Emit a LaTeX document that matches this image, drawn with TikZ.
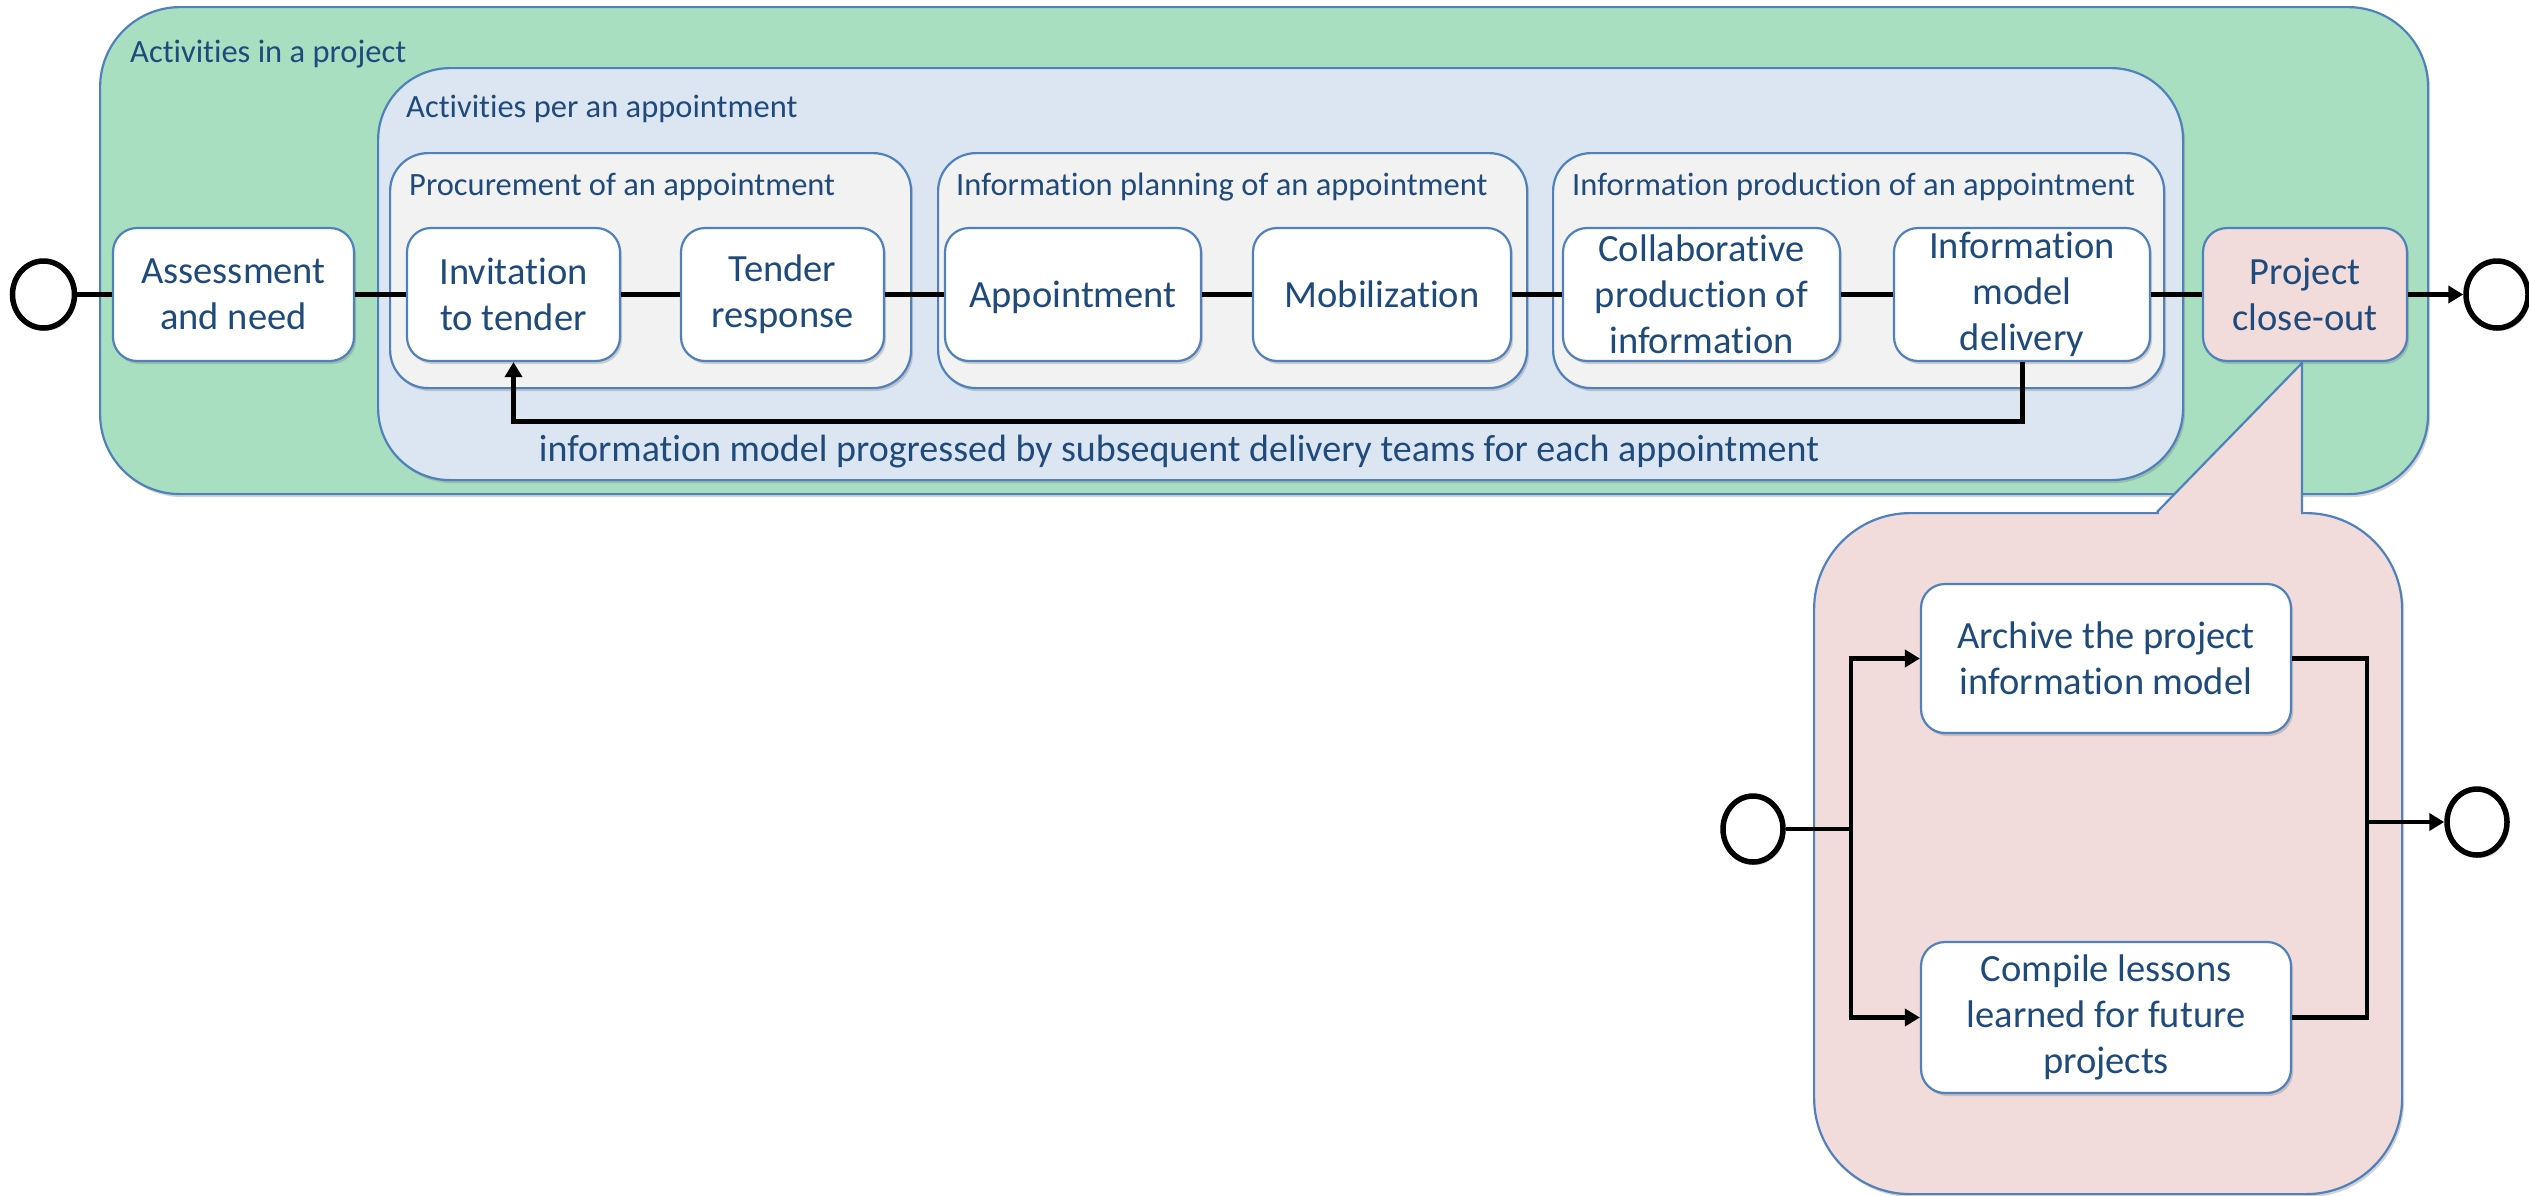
\documentclass[tikz,border=0pt]{standalone}
\usepackage{fontspec}
\setmainfont{Carlito}[Ligatures=NoCommon,Contextuals=NoAlternate]
\usetikzlibrary{arrows.meta,shadows,shapes.geometric}

\definecolor{navy}{HTML}{1F4A7C}
\definecolor{edge}{HTML}{4F81BD}
\definecolor{mint}{HTML}{A8DFC1}
\definecolor{paleblue}{HTML}{DCE6F2}
\definecolor{palegray}{HTML}{F2F2F2}
\definecolor{palepink}{HTML}{F2DCDB}

\begin{document}
\begin{tikzpicture}[x=1pt,y=-1pt,
  shade/.style={drop shadow={shadow xshift=2pt,shadow yshift=-3pt,opacity=0.28,fill=black!60}},
  container/.style={draw=edge,line width=2.2pt,shade,anchor=north west,inner sep=0pt},
  grouplabel/.style={anchor=base west,text=navy,font=\fontsize{32.5}{39}\selectfont,inner sep=0pt},
  task/.style={draw=edge,line width=2.2pt,shade,fill=white,rounded corners=24pt,
    align=center,text=navy,font=\fontsize{38.5}{46}\selectfont,inner sep=0pt},
  oneline/.style={text height=33pt,text depth=8pt},
  endpoint/.style={ellipse,draw=black,fill=white,line width=5.5pt,shade,
    minimum width=62pt,minimum height=67pt,inner sep=0pt},
  flow/.style={draw=black,line width=5pt},
  subflow/.style={draw=black,line width=4.5pt},
  tip/.style={-{Triangle[length=15pt,width=17pt]}}
]
\useasboundingbox (0,0) rectangle (2529,1195);

% nested groups
\node[container,fill=mint,rounded corners=80pt,minimum width=2328pt,minimum height=487pt]
  (project) at (99,6) {};
\node[grouplabel] (projectlbl) at (130,62) {Activities in a project};

\node[container,fill=paleblue,rounded corners=72pt,minimum width=1805pt,minimum height=412pt]
  (appt) at (377,67) {};
\node[grouplabel] (apptlbl) at (406,117) {Activities per an appointment};

\node[container,fill=palegray,rounded corners=38pt,minimum width=521pt,minimum height=235pt]
  (procure) at (389,152) {};
\node[grouplabel] (procurelbl) at (409,195) {Procurement of an appointment};

\node[container,fill=palegray,rounded corners=38pt,minimum width=589pt,minimum height=235pt]
  (planning) at (937,152) {};
\node[grouplabel] (planninglbl) at (956,195) {Information planning of an appointment};

\node[container,fill=palegray,rounded corners=38pt,minimum width=611pt,minimum height=235pt]
  (production) at (1552,152) {};
\node[grouplabel] (productionlbl) at (1572,195) {Information production of an appointment};

% close-out callout
\node[container,fill=palepink,rounded corners=96pt,minimum width=588pt,minimum height=681pt]
  (bubble) at (1813,512) {};
\fill[palepink] (2157,512) -- (2302,363) -- (2302,512) -- cycle;
\fill[palepink] (2159,508) rectangle (2301,515);
\draw[edge,line width=2.2pt,line join=round] (2157,512) -- (2302,363) -- (2302,512);

% main sequence
\node[endpoint] (start) at (43.5,294.5) {};
\node[task,minimum width=241pt,minimum height=133pt] (assess) at (233.5,294.5) {Assessment\\and need};
\node[task,minimum width=213pt,minimum height=133pt] (invite) at (513.5,294.5) {Invitation\\to tender};
\node[task,minimum width=203pt,minimum height=133pt] (tender) at (782.5,294.5) {Tender\\response};
\node[task,oneline,minimum width=256pt,minimum height=133pt] (appoint) at (1073,294.5) {Appointment};
\node[task,oneline,minimum width=258pt,minimum height=133pt] (mobil) at (1382,294.5) {Mobilization};
\node[task,minimum width=277pt,minimum height=133pt] (collab) at (1701.5,294.5) {Collaborative\\production of\\information};
\node[task,minimum width=256pt,minimum height=133pt] (deliver) at (2022,294.5) {Information\\model\\delivery};
\node[task,fill=palepink,minimum width=204pt,minimum height=133pt] (closeout) at (2305,294.5) {Project\\close-out};
\node[endpoint] (finish) at (2497,294.5) {};

\draw[flow] (start) -- (assess);
\draw[flow] (assess) -- (invite);
\draw[flow] (invite) -- (tender);
\draw[flow] (tender) -- (appoint);
\draw[flow] (appoint) -- (mobil);
\draw[flow] (mobil) -- (collab);
\draw[flow] (collab) -- (deliver);
\draw[flow] (deliver) -- (closeout);
\draw[flow,tip] (closeout) -- (finish);

% feedback loop between appointments
\coordinate (loop) at (2022,421);
\draw[flow,tip,line join=miter] (deliver.south) -- (deliver.south |- loop) -- (invite.south |- loop) -- (invite.south);
\node[anchor=base,text=navy,font=\fontsize{38}{46}\selectfont,inner sep=0pt] (looplbl) at (1179,461)
  {information model progressed by subsequent delivery teams for each appointment};

% close-out activities
\node[endpoint,minimum width=60pt,minimum height=66pt] (cstart) at (1753,829) {};
\node[task,minimum width=370pt,minimum height=149pt] (archive) at (2106,658.5) {Archive the project\\information model};
\node[task,minimum width=370pt,minimum height=151pt] (lessons) at (2106,1017.5) {Compile lessons\\learned for future\\projects};
\node[endpoint,minimum width=60pt,minimum height=66pt] (cfinish) at (2477,822) {};
\coordinate (split) at (1851,829);
\coordinate (merge) at (2367,822);

\draw[subflow] (cstart) -- (split);
\draw[subflow,tip,line join=miter] (split) |- (archive.west);
\draw[subflow,tip,line join=miter] (split) |- (lessons.west);
\draw[subflow,line join=miter] (archive.east) -| (merge);
\draw[subflow,line join=miter] (lessons.east) -| (merge);
\draw[subflow,tip] (merge) -- (cfinish);
\end{tikzpicture}
\end{document}
